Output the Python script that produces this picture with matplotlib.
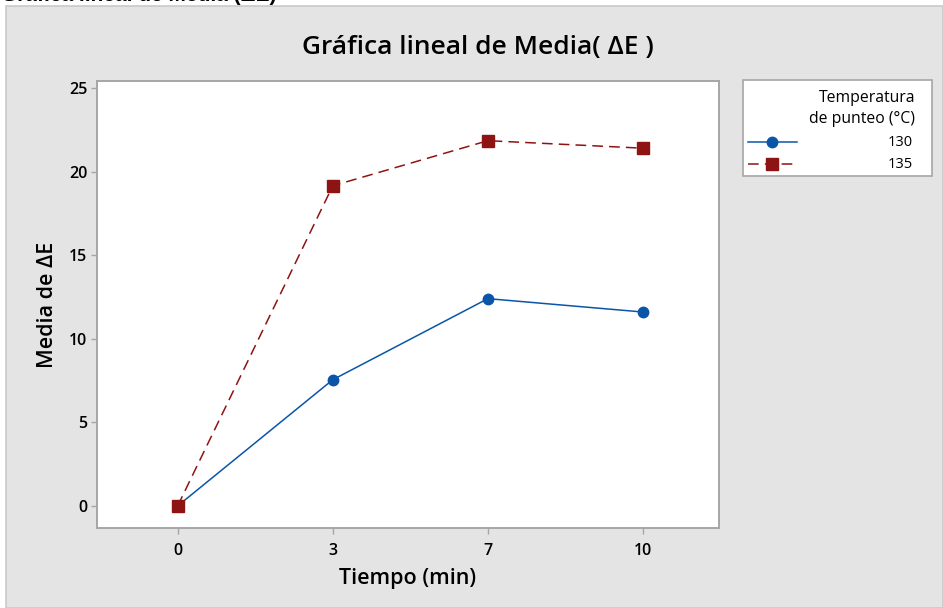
import matplotlib
matplotlib.use("Agg")
import matplotlib.pyplot as plt
from matplotlib.patches import Rectangle
from matplotlib.lines import Line2D

# Data
tiempos = ["0", "3", "7", "10"]
media_130 = [0.0, 7.55, 12.4, 11.6]
media_135 = [0.0, 19.15, 21.85, 21.4]
serie_labels = ["130", "135"]
y_ticks = [0, 5, 10, 15, 20, 25]

BLUE = "#0b55a8"
RED = "#8e1313"
PANEL = "#e4e4e4"

plt.rcParams["font.family"] = ["Open Sans", "DejaVu Sans"]

W, H = 943, 608
fig = plt.figure(figsize=(W / 100, H / 100), dpi=100)
fig.patch.set_facecolor("white")

def fx(px):
    return px / W

def fy(py):
    return 1 - py / H

# grey graph panel
fig.add_artist(Rectangle((fx(6), 0), 1 - fx(6), fy(6), transform=fig.transFigure,
                         facecolor=PANEL, edgecolor="#c9c9c9", linewidth=1.2, zorder=-5))

# heading partly above the page
fig.text(fx(1), fy(1), "Gráfica lineal de Media (ΔE)", fontsize=15, fontweight="bold",
         ha="left", va="baseline", color="black", family=["Liberation Sans", "DejaVu Sans"],
         zorder=-4)

ax = fig.add_axes([fx(97), fy(528), fx(719) - fx(97), fy(81) - fy(528)])
ax.set_facecolor("white")
ax.set_zorder(1)

x = list(range(len(tiempos)))
ax.plot(x, media_130, color=BLUE, lw=1.1, marker="o", markersize=7.5,
        markerfacecolor=BLUE, markeredgecolor=BLUE, zorder=3)
ax.plot(x, media_135, color=RED, lw=1.1, linestyle=(0, (7, 4)), marker="s", markersize=8.5,
        markerfacecolor=RED, markeredgecolor=RED, zorder=4)

ax.set_xlim(-0.52, 3.49)
ax.set_ylim(-1.32, 25.42)
ax.set_xticks(x)
ax.set_xticklabels(tiempos)
ax.set_yticks(y_ticks)

for s in ax.spines.values():
    s.set_color("#a6a6a6")
    s.set_linewidth(1.4)

ax.tick_params(axis="both", direction="out", length=4, width=1, color="#a6a6a6",
               labelsize=11.5, labelcolor="black")
ax.tick_params(axis="x", pad=7)
ax.tick_params(axis="y", pad=3)
for lbl in ax.get_xticklabels() + ax.get_yticklabels():
    lbl.set_fontweight("semibold")

ax.set_xlabel("Tiempo (min)", fontsize=15.5, fontweight="semibold", labelpad=6)
ax.set_ylabel("Media de ΔE", fontsize=15.5, fontweight="semibold", labelpad=8)
fig.text(fx(478), fy(48), "Gráfica lineal de Media( ΔE )", fontsize=19, fontweight="semibold",
         ha="center", va="center")

# legend box
lx0, ly0, lx1, ly1 = 743, 80, 932, 176
fig.add_artist(Rectangle((fx(lx0), fy(ly1)), fx(lx1) - fx(lx0), fy(ly0) - fy(ly1),
                         transform=fig.transFigure, facecolor="white",
                         edgecolor="#a6a6a6", linewidth=1.2, zorder=1))
fig.text(fx(915), fy(98), "Temperatura", fontsize=11.3, ha="right", va="center", zorder=2)
fig.text(fx(915), fy(119), "de punteo (°C)", fontsize=11.3, ha="right", va="center", zorder=2)
legend_styles = [
    dict(color=BLUE, lw=1.1, linestyle="-", marker="o", markersize=7.5),
    dict(color=RED, lw=1.1, linestyle=(0, (7, 4)), marker="s", markersize=8.5),
]
for i, (lab, st) in enumerate(zip(serie_labels, legend_styles)):
    yy = fy(142 + i * 22)
    fig.add_artist(Line2D([fx(748), fx(797)], [yy, yy], transform=fig.transFigure,
                          color=st["color"], lw=st["lw"], linestyle=st["linestyle"], zorder=2))
    fig.add_artist(Line2D([fx(772)], [yy], transform=fig.transFigure, color=st["color"],
                          marker=st["marker"], markersize=st["markersize"], zorder=3))
    fig.text(fx(913), yy, lab, fontsize=10.5, ha="right", va="center", zorder=2)

fig.savefig("out.png", dpi=100, facecolor=fig.get_facecolor())
